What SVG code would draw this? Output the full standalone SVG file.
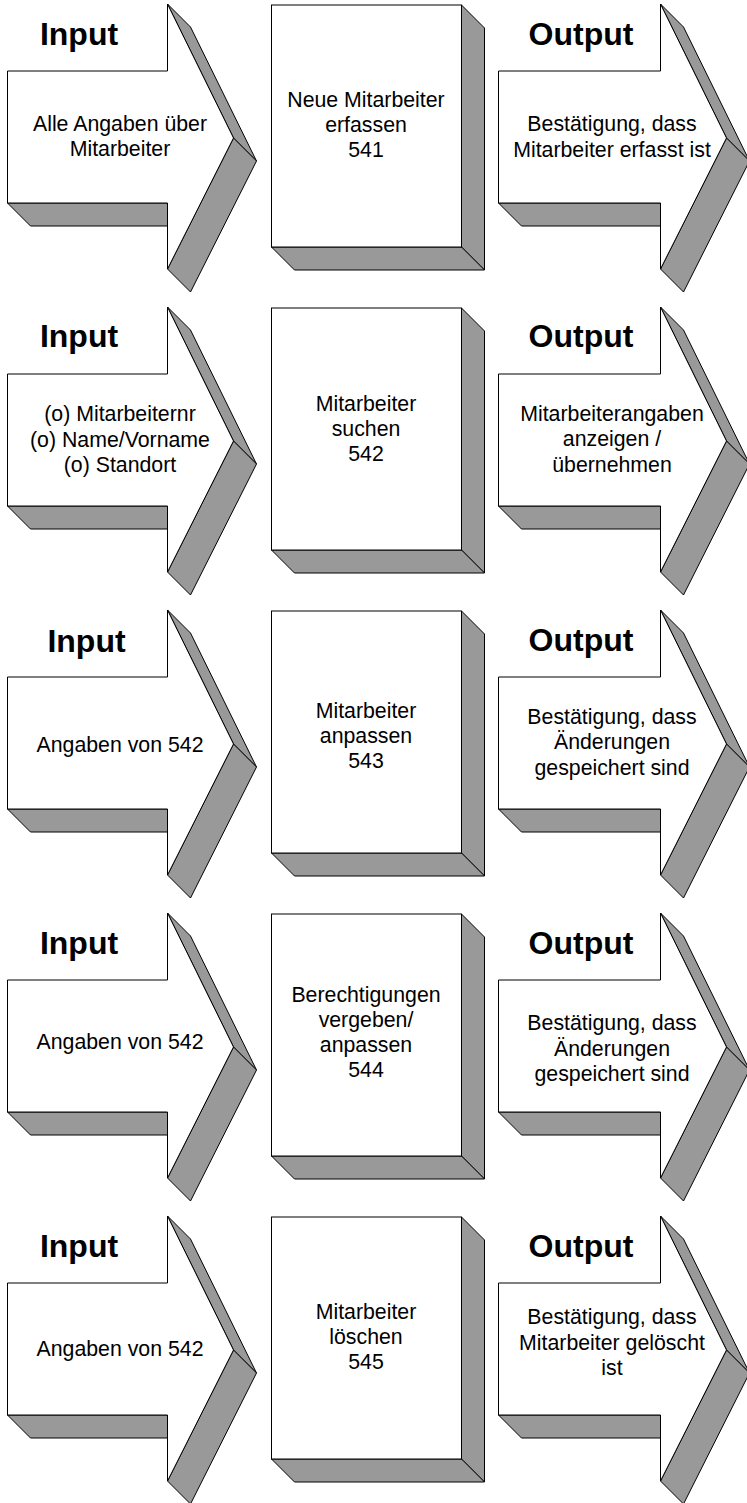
<svg xmlns="http://www.w3.org/2000/svg" xmlns:xlink="http://www.w3.org/1999/xlink" width="747" height="1503" viewBox="0 0 747 1503">
<style>
.face{fill:#fff;stroke:#000;stroke-width:1;stroke-linejoin:miter}
.side{fill:#999;stroke:#000;stroke-width:1;stroke-linejoin:miter}
text{font-family:"Liberation Sans",Arial,sans-serif;fill:#000}
.lbl{font-size:32px;font-weight:bold;text-anchor:middle}
.t{font-size:21.3px;text-anchor:middle}
</style>
<defs>
<g id="inArrow">
<polygon class="side" points="7.5,203 30.5,226 167.5,226 167.5,203"/>
<polygon class="side" points="167.5,4 190.5,27 256.5,161 233.5,138"/>
<polygon class="side" points="233.5,138 256.5,161 190.5,292 167.5,269"/>
<polygon class="face" points="7.5,71 167.5,71 167.5,4 233.5,138 167.5,269 167.5,203 7.5,203"/>
</g>
<g id="outArrow">
<polygon class="side" points="498.5,203 521.5,226 660.5,226 660.5,203"/>
<polygon class="side" points="660.5,4 683.5,27 749.5,161 726.5,138"/>
<polygon class="side" points="726.5,138 749.5,161 683.5,292 660.5,269"/>
<polygon class="face" points="498.5,71 660.5,71 660.5,4 726.5,138 660.5,269 660.5,203 498.5,203"/>
</g>
<g id="box">
<polygon class="side" points="461.5,5 484.5,28 484.5,270 461.5,247"/>
<polygon class="side" points="271.5,247 294.5,270 484.5,270 461.5,247"/>
<rect class="face" x="271.5" y="5" width="190" height="242"/>
</g>
</defs>

<!-- Row 1 -->
<g id="input1">
<use xlink:href="#inArrow" href="#inArrow"/>
<text class="lbl" x="79" y="45">Input</text>
<text class="t" x="120" y="131">Alle Angaben über</text>
<text class="t" x="120" y="156">Mitarbeiter</text>
</g>
<g id="process541">
<use xlink:href="#box" href="#box"/>
<text class="t" x="366" y="107">Neue Mitarbeiter</text>
<text class="t" x="366" y="132">erfassen</text>
<text class="t" x="366" y="157">541</text>
</g>
<g id="output1">
<use xlink:href="#outArrow" href="#outArrow"/>
<text class="lbl" x="581" y="45">Output</text>
<text class="t" x="612" y="131">Bestätigung, dass</text>
<text class="t" x="612" y="156.5">Mitarbeiter erfasst ist</text>
</g>

<!-- Row 2 -->
<g id="input2" transform="translate(0,303)">
<use xlink:href="#inArrow" href="#inArrow"/>
<text class="lbl" x="79" y="44">Input</text>
<text class="t" x="120" y="118">(o) Mitarbeiternr</text>
<text class="t" x="120" y="143.5">(o) Name/Vorname</text>
<text class="t" x="120" y="169">(o) Standort</text>
</g>
<g id="process542" transform="translate(0,303)">
<use xlink:href="#box" href="#box"/>
<text class="t" x="366" y="107.5">Mitarbeiter</text>
<text class="t" x="366" y="132.5">suchen</text>
<text class="t" x="366" y="157.5">542</text>
</g>
<g id="output2" transform="translate(0,303)">
<use xlink:href="#outArrow" href="#outArrow"/>
<text class="lbl" x="581" y="44">Output</text>
<text class="t" x="612" y="117.5">Mitarbeiterangaben</text>
<text class="t" x="612" y="143">anzeigen /</text>
<text class="t" x="612" y="168.5">übernehmen</text>
</g>

<!-- Row 3 -->
<g id="input3" transform="translate(0,606)">
<use xlink:href="#inArrow" href="#inArrow"/>
<text class="lbl" x="86.5" y="45.5">Input</text>
<text class="t" x="120" y="145.5">Angaben von 542</text>
</g>
<g id="process543" transform="translate(0,606)">
<use xlink:href="#box" href="#box"/>
<text class="t" x="366" y="112">Mitarbeiter</text>
<text class="t" x="366" y="137">anpassen</text>
<text class="t" x="366" y="162">543</text>
</g>
<g id="output3" transform="translate(0,606)">
<use xlink:href="#outArrow" href="#outArrow"/>
<text class="lbl" x="581" y="45">Output</text>
<text class="t" x="612" y="117.5">Bestätigung, dass</text>
<text class="t" x="612" y="143">Änderungen</text>
<text class="t" x="612" y="168.5">gespeichert sind</text>
</g>

<!-- Row 4 -->
<g id="input4" transform="translate(0,909)">
<use xlink:href="#inArrow" href="#inArrow"/>
<text class="lbl" x="79" y="45">Input</text>
<text class="t" x="120" y="140">Angaben von 542</text>
</g>
<g id="process544" transform="translate(0,909)">
<use xlink:href="#box" href="#box"/>
<text class="t" x="366" y="93">Berechtigungen</text>
<text class="t" x="366" y="118">vergeben/</text>
<text class="t" x="366" y="143">anpassen</text>
<text class="t" x="366" y="168">544</text>
</g>
<g id="output4" transform="translate(0,909)">
<use xlink:href="#outArrow" href="#outArrow"/>
<text class="lbl" x="581" y="45">Output</text>
<text class="t" x="612" y="121">Bestätigung, dass</text>
<text class="t" x="612" y="146.5">Änderungen</text>
<text class="t" x="612" y="172">gespeichert sind</text>
</g>

<!-- Row 5 -->
<g id="input5" transform="translate(0,1212)">
<use xlink:href="#inArrow" href="#inArrow"/>
<text class="lbl" x="79" y="45">Input</text>
<text class="t" x="120" y="144">Angaben von 542</text>
</g>
<g id="process545" transform="translate(0,1212)">
<use xlink:href="#box" href="#box"/>
<text class="t" x="366" y="107">Mitarbeiter</text>
<text class="t" x="366" y="132">löschen</text>
<text class="t" x="366" y="157">545</text>
</g>
<g id="output5" transform="translate(0,1212)">
<use xlink:href="#outArrow" href="#outArrow"/>
<text class="lbl" x="581" y="45">Output</text>
<text class="t" x="612" y="112">Bestätigung, dass</text>
<text class="t" x="612" y="137.5">Mitarbeiter gelöscht</text>
<text class="t" x="612" y="162.5">ist</text>
</g>
</svg>
